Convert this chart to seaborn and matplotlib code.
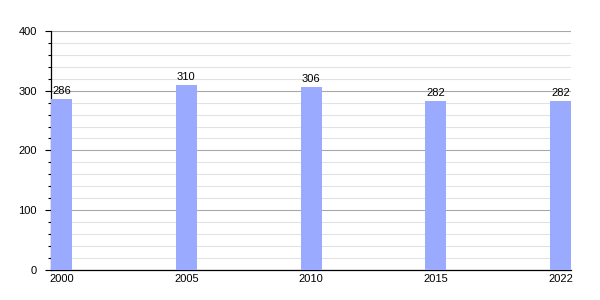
import matplotlib
matplotlib.use("Agg")
import matplotlib.pyplot as plt
import seaborn as sns
import pandas as pd
from matplotlib.ticker import MultipleLocator

years = ["2000", "2005", "2010", "2015", "2022"]
values = [286, 310, 306, 282, 282]

df = pd.DataFrame({"year": years, "value": values})

sns.set_style("white")
plt.rcParams['font.family'] = ['Liberation Sans', 'DejaVu Sans']

fig = plt.figure(figsize=(6, 3), dpi=100)
ax = fig.add_axes([0.085, 0.1, 0.867, 0.797])

sns.barplot(data=df, x="year", y="value", color="#99aaff", width=0.168,
            saturation=1, ax=ax, zorder=3, linewidth=0)

ax.set_xlim(-0.084, 4.084)
ax.set_ylim(0, 400)
ax.yaxis.set_major_locator(MultipleLocator(100))
ax.yaxis.set_minor_locator(MultipleLocator(20))
ax.grid(which="major", axis="y", color="#a8a8a8", linewidth=0.8, zorder=0)
ax.grid(which="minor", axis="y", color="#e2e2e2", linewidth=0.8, zorder=0)
ax.set_axisbelow(True)

for s in ["top", "right"]:
    ax.spines[s].set_visible(False)
for s in ["left", "bottom"]:
    ax.spines[s].set_color("black")
    ax.spines[s].set_linewidth(0.9)

ax.tick_params(axis="y", which="major", length=4.3, width=0.8, color="black",
               labelsize=8, left=True, pad=6, labelcolor="black")
ax.tick_params(axis="y", which="minor", length=2.2, width=0.8, color="black", left=True)
ax.tick_params(axis="x", length=0, labelsize=8, pad=3, labelcolor="black")

ax.set_xlabel("")
ax.set_ylabel("")

for i, v in enumerate(values):
    ax.text(i, v + 5, str(v), ha="center", va="bottom", fontsize=8, zorder=4,
            color="black")

fig.savefig("out.png", dpi=100)
